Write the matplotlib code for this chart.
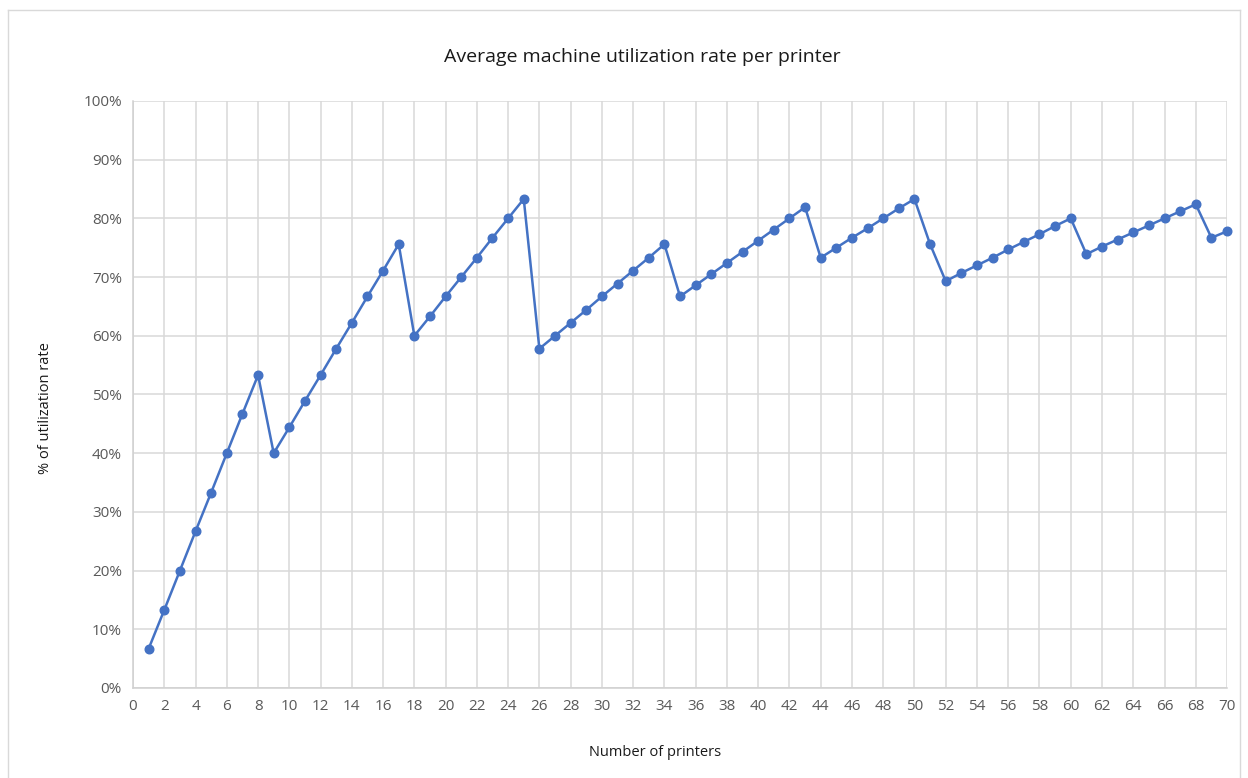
import matplotlib
matplotlib.use('Agg')
import matplotlib.pyplot as plt
from matplotlib.ticker import FuncFormatter, MultipleLocator
from matplotlib.lines import Line2D

plt.rcParams['font.family'] = ['Open Sans', 'DejaVu Sans']

# values
printers = list(range(1, 71))
utilization = [
    6.7, 13.3, 20.0, 26.7, 33.3, 40.0, 46.7, 53.3,
    40.0, 44.4, 48.9, 53.3, 57.8, 62.2, 66.7, 71.1, 75.6,
    60.0, 63.3, 66.7, 70.0, 73.3, 76.7, 80.0, 83.3,
    57.8, 60.0, 62.2, 64.4, 66.7, 68.9, 71.1, 73.3, 75.6,
    66.7, 68.6, 70.5, 72.4, 74.3, 76.2, 78.1, 80.0, 81.9,
    73.3, 75.0, 76.7, 78.3, 80.0, 81.7, 83.3,
    75.6, 69.3, 70.7, 72.0, 73.3, 74.7, 76.0, 77.3, 78.7, 80.0,
    73.9, 75.2, 76.4, 77.6, 78.8, 80.0, 81.2, 82.4,
    76.7, 77.8,
]

fig = plt.figure(figsize=(12.48, 7.78), dpi=100)
ax = fig.add_axes([0.1066, 0.1157, 0.8766, 0.7545])

ax.plot(printers, utilization, color='#4472C4', lw=1.8, marker='o', ms=6.2,
        zorder=3, clip_on=False)

ax.set_xlim(0, 70)
ax.set_ylim(0, 100)
ax.xaxis.set_major_locator(MultipleLocator(2))
ax.yaxis.set_major_locator(MultipleLocator(10))
ax.yaxis.set_major_formatter(FuncFormatter(lambda v, p: f'{v:.0f}%'))
ax.grid(True, color='#D9D9D9', lw=1.1, zorder=0)
ax.set_axisbelow(True)
for side in ['top', 'right']:
    ax.spines[side].set_visible(False)
for side in ['left', 'bottom']:
    ax.spines[side].set_color('#D0D0D0')
    ax.spines[side].set_linewidth(1.1)
ax.tick_params(length=0, colors='#595959', labelsize=11, pad=8)

# title and axis labels placed where the reference has them
fig.text(642 / 1248, 1 - 57 / 778, 'Average machine utilization rate per printer',
         fontsize=14, color='#1a1a1a', ha='center', va='center')
fig.text(655 / 1248, 1 - 753 / 778, 'Number of printers',
         fontsize=10.5, color='#1a1a1a', ha='center', va='center')
fig.text(46 / 1248, 1 - 408 / 778, '% of utilization rate', rotation=90,
         fontsize=10.5, color='#1a1a1a', ha='center', va='center')

# outer chart border
for xs, ys in [([8, 1240], [768, 768]), ([8, 8], [0, 768]), ([1240, 1240], [0, 768])]:
    fig.add_artist(Line2D([x / 1248 for x in xs], [y / 778 for y in ys],
                          color='#D9D9D9', lw=1))

fig.savefig('out.png', dpi=100)
